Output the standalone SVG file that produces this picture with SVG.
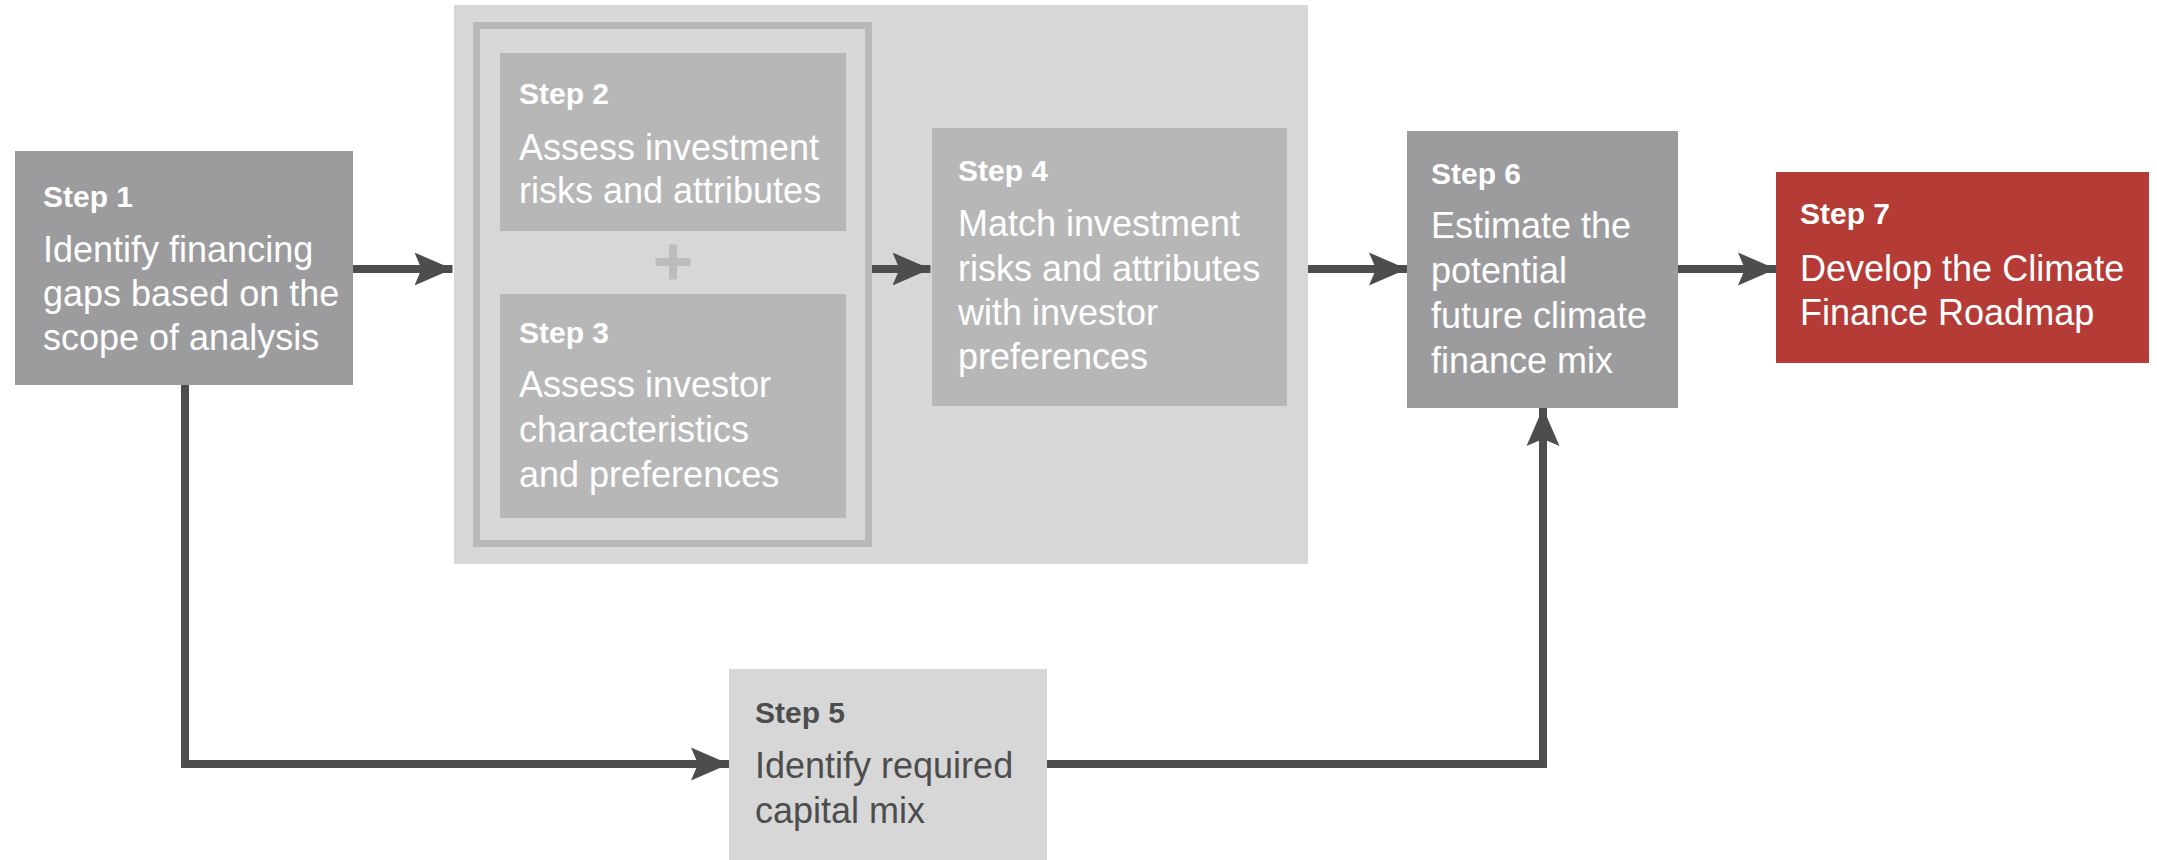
<svg xmlns="http://www.w3.org/2000/svg" width="2157" height="860" viewBox="0 0 2157 860">
<style>
  .t { font-family: "Liberation Sans", Arial, sans-serif; font-weight: bold; font-size: 30px; fill: #ffffff; }
  .b { font-family: "Liberation Sans", Arial, sans-serif; font-size: 36px; fill: #ffffff; }
  .dark { fill: #4c4d4f; }
  .conn { fill: none; stroke: #4c4d4f; stroke-width: 8; }
</style>
<defs>
  <marker id="ah" viewBox="-38 -17 38 34" refX="0" refY="0" markerUnits="userSpaceOnUse" markerWidth="38" markerHeight="34" orient="auto">
    <path d="M0,0 L-38,-16.5 L-31,0 L-38,16.5 Z" fill="#4c4d4f"/>
  </marker>
</defs>
<rect width="2157" height="860" fill="#ffffff"/>

<g id="container">
  <rect x="454" y="5" width="854" height="559" fill="#d7d7d7"/>
  <rect x="476.5" y="25.5" width="392" height="518" fill="none" stroke="#b9b8b9" stroke-width="7"/>
  <g id="plus" fill="#bdbcbd">
    <rect x="655.5" y="258" width="35" height="8"/>
    <rect x="669" y="244.5" width="8" height="35"/>
  </g>
</g>

<g id="step1">
  <rect x="15" y="151" width="338" height="234" fill="#9c9b9d"/>
  <text class="t" x="43" y="207">Step 1</text>
  <text class="b" x="43" y="262">Identify financing</text>
  <text class="b" x="43" y="306">gaps based on the</text>
  <text class="b" x="43" y="350">scope of analysis</text>
</g>

<g id="step2">
  <rect x="500" y="53" width="346" height="178" fill="#b8b7b8"/>
  <text class="t" x="519" y="104">Step 2</text>
  <text class="b" x="519" y="160">Assess investment</text>
  <text class="b" x="519" y="203">risks and attributes</text>
</g>

<g id="step3">
  <rect x="500" y="294" width="346" height="224" fill="#b8b7b8"/>
  <text class="t" x="519" y="343">Step 3</text>
  <text class="b" x="519" y="397">Assess investor</text>
  <text class="b" x="519" y="442">characteristics</text>
  <text class="b" x="519" y="487">and preferences</text>
</g>

<g id="step4">
  <rect x="932" y="128" width="355" height="278" fill="#b8b7b8"/>
  <text class="t" x="958" y="181">Step 4</text>
  <text class="b" x="958" y="236">Match investment</text>
  <text class="b" x="958" y="281">risks and attributes</text>
  <text class="b" x="958" y="325">with investor</text>
  <text class="b" x="958" y="369">preferences</text>
</g>

<g id="step5">
  <rect x="729" y="669" width="318" height="191" fill="#d7d7d7"/>
  <text class="t dark" x="755" y="723">Step 5</text>
  <text class="b dark" x="755" y="778">Identify required</text>
  <text class="b dark" x="755" y="823">capital mix</text>
</g>

<g id="step6">
  <rect x="1407" y="131" width="271" height="277" fill="#9c9b9d"/>
  <text class="t" x="1431" y="184">Step 6</text>
  <text class="b" x="1431" y="238">Estimate the</text>
  <text class="b" x="1431" y="283">potential</text>
  <text class="b" x="1431" y="328">future climate</text>
  <text class="b" x="1431" y="373">finance mix</text>
</g>

<g id="step7">
  <rect x="1776" y="172" width="373" height="191" fill="#b53c36"/>
  <text class="t" x="1800" y="224">Step 7</text>
  <text class="b" x="1800" y="281">Develop the Climate</text>
  <text class="b" x="1800" y="325">Finance Roadmap</text>
</g>

<g id="connectors">
  <path class="conn" d="M353,269 H452.5" marker-end="url(#ah)"/>
  <path class="conn" d="M872,269 H930.5" marker-end="url(#ah)"/>
  <path class="conn" d="M1308,269 H1407" marker-end="url(#ah)"/>
  <path class="conn" d="M1678,269 H1776" marker-end="url(#ah)"/>
  <path class="conn" d="M185,385 V764 H729" marker-end="url(#ah)"/>
  <path class="conn" d="M1047,764 H1543 V408" marker-end="url(#ah)"/>
</g>
</svg>
